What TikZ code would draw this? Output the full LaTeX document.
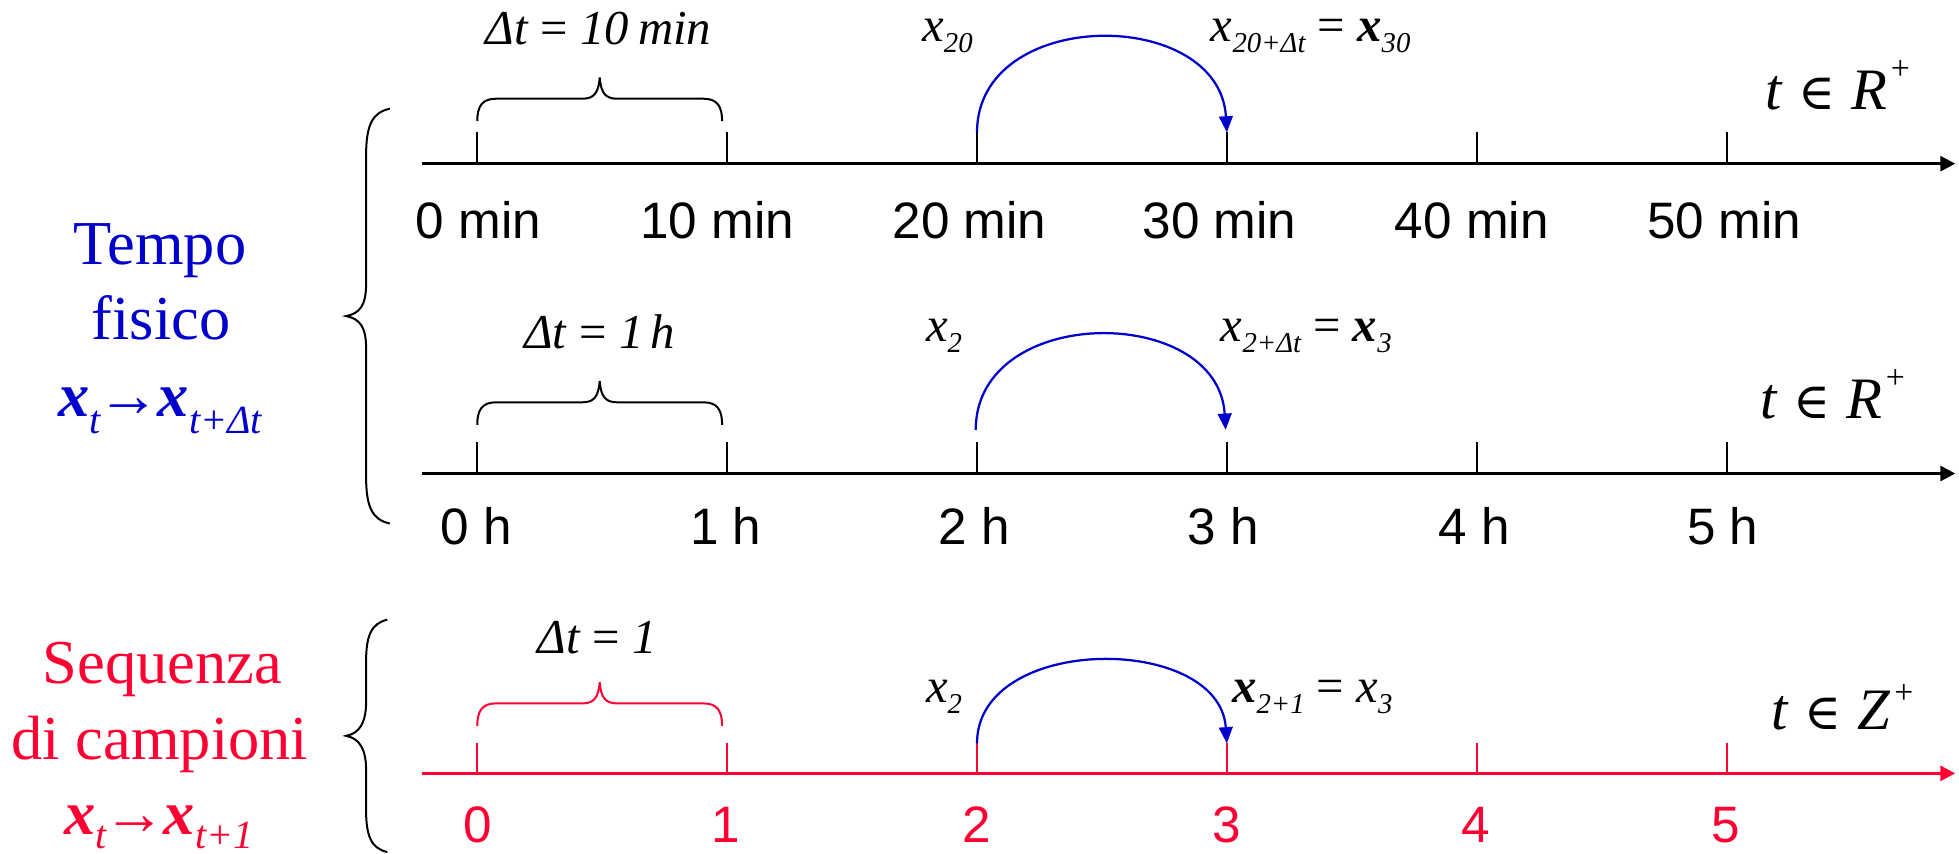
\documentclass[tikz,border=0pt]{standalone}
\usepackage{fontspec}
\setmainfont{Liberation Serif}
\newfontfamily\sansf{Liberation Sans}
\newfontfamily\symf{DejaVu Serif}
\usetikzlibrary{arrows.meta}
\definecolor{myblue}{RGB}{0,0,204}
\definecolor{myred}{RGB}{255,0,51}
\newcommand\lsub[1]{\raisebox{-9pt}{\fontsize{23}{23}\selectfont\itshape #1}}
\newcommand\bsub[2][14]{\raisebox{-#1pt}{\fontsize{32}{32}\selectfont\itshape #2}}
\newcommand\vx{\textit{x}}
\newcommand\bx{\textbf{\textit{x}}}
\newcommand\elt{{\symf\fontsize{40}{40}\selectfont ∈}}
\newcommand\setlab[2]{\textit{t}\hspace{12pt}\elt\hspace{13pt}\textit{#1}\hspace{3pt}\raisebox{#2}{\fontsize{27}{27}\selectfont +}}
\begin{document}
\begin{tikzpicture}[x=1pt,y=-1pt,
  axisline/.style={line width=2.4pt,-{Triangle[length=12pt,width=12pt]}},
  tickline/.style={line width=1.4pt},
  jump/.style={myblue,line width=1.8pt,-{Triangle[length=13pt,width=11pt]}},
  ticklab/.style={font=\sansf\fontsize{41}{41}\selectfont,anchor=base,inner sep=0pt},
  mlab/.style={font=\fontsize{39}{39}\selectfont,inner sep=0pt},
  setstyle/.style={font=\fontsize{47}{47}\selectfont,inner sep=0pt,anchor=base west},
  sidelab/.style={font=\fontsize{50}{50}\selectfont,anchor=base,inner sep=0pt},
  bracepath/.style={line width=1.6pt},
  sbrace/.pic={\draw[bracepath] (0,0) .. controls (0,-12) and (4,-18) .. (15,-18) -- (84,-18)
      .. controls (93,-18) and (97,-22) .. (98,-35)
      .. controls (99,-22) and (103,-18) .. (112,-18) -- (181,-18)
      .. controls (192,-18) and (196,-12) .. (196,0);}
]
\useasboundingbox (0,0) rectangle (1568,683);

% ---------------- left labels
\node[sidelab,myblue] (tempo) at (128,212) {Tempo};
\node[sidelab,myblue] (fisico) at (129,272) {fisico};
\node[sidelab,myblue] (trans1) at (128,333) {\bx\bsub{t}\hspace{-2pt}\textbf{→}\hspace{-2pt}\bx\bsub{t+Δt}};
\node[sidelab,myred] (seq) at (130,547) {Sequenza};
\node[sidelab,myred] (camp) at (128,608) {di campioni};
\node[sidelab,myred] (trans2) at (127,668) {\bx\bsub[11]{t}\hspace{-2pt}\textbf{→}\hspace{-2pt}\bx\bsub[11]{t+1}};

% ---------------- big braces
\draw[bracepath] (312,87) .. controls (298,90) and (293,100) .. (293,125) -- (293,228)
  .. controls (293,244) and (288,251) .. (277,253)
  .. controls (288,255) and (293,262) .. (293,278) -- (293,381)
  .. controls (293,406) and (298,416) .. (312,419);
\draw[bracepath] (310,496) .. controls (297,499) and (293,509) .. (293,530) -- (293,562)
  .. controls (293,578) and (288,587) .. (277,589)
  .. controls (288,591) and (293,600) .. (293,616) -- (293,648)
  .. controls (293,669) and (297,679) .. (310,682);

% ---------------- axis 1 (minutes)
\coordinate (A1s) at (338,131);
\coordinate (A1e) at (1565,131);
\draw[axisline] (A1s) -- (A1e);
\foreach \i in {0,...,5}{\draw[tickline] (382+200*\i,131) -- (382+200*\i,106) coordinate (A1t\i);}
\node[ticklab] (m0) at (383,191) {0 min};
\node[ticklab] (m1) at (574,191) {10 min};
\node[ticklab] (m2) at (776,191) {20 min};
\node[ticklab] (m3) at (976,191) {30 min};
\node[ticklab] (m4) at (1178,191) {40 min};
\node[ticklab] (m5) at (1380,191) {50 min};
\pic at (382,97) {sbrace};
\node[mlab,anchor=base] (d1) at (479,36) {\textit{Δt} = \textit{10\hspace{0.18em}min}};
\node[mlab,anchor=base west] (x20) at (738,33) {\vx\lsub{20}};
\node[mlab,anchor=base west] (x30) at (969,33) {\vx\lsub{20+Δt} = \bx\lsub{30}};
\node[setstyle] (R1) at (1413,88) {\setlab{R}{24pt}};
\draw[jump] (A1t2) .. controls +(0,-101) and +(-6,-101) .. (A1t3);

% ---------------- axis 2 (hours)
\coordinate (A2s) at (338,379);
\coordinate (A2e) at (1565,379);
\draw[axisline] (A2s) -- (A2e);
\foreach \i in {0,...,5}{\draw[tickline] (382+200*\i,379) -- (382+200*\i,354) coordinate (A2t\i);}
\node[ticklab] (h0) at (381,436) {0 h};
\node[ticklab] (h1) at (581,436) {1 h};
\node[ticklab] (h2) at (780,436) {2 h};
\node[ticklab] (h3) at (979,436) {3 h};
\node[ticklab] (h4) at (1180,436) {4 h};
\node[ticklab] (h5) at (1379,436) {5 h};
\pic at (382,340) {sbrace};
\node[mlab,anchor=base] (d2) at (480,279) {\textit{Δt} = \textit{1\hspace{0.15em}h}};
\node[mlab,anchor=base west] (x2a) at (741,273) {\vx\lsub{2}};
\node[mlab,anchor=base west] (x3a) at (977,273) {\vx\lsub{2+Δt} = \bx\lsub{3}};
\node[setstyle] (R2) at (1409,335) {\setlab{R}{24pt}};
\coordinate (B2a) at (781,344);
\coordinate (B2b) at (981,344);
\draw[jump] (B2a) .. controls +(0,-101) and +(-6,-101) .. (B2b);

% ---------------- axis 3 (samples)
\coordinate (A3s) at (338,619);
\coordinate (A3e) at (1565,619);
\draw[axisline,myred] (A3s) -- (A3e);
\foreach \i in {0,...,5}{\draw[tickline,myred] (382+200*\i,619) -- (382+200*\i,595) coordinate (A3t\i);}
\node[ticklab,myred] (n0) at (382,674) {0};
\node[ticklab,myred] (n1) at (581,674) {1};
\node[ticklab,myred] (n2) at (782,674) {2};
\node[ticklab,myred] (n3) at (982,674) {3};
\node[ticklab,myred] (n4) at (1181,674) {4};
\node[ticklab,myred] (n5) at (1381,674) {5};
\pic[myred] at (382,581) {sbrace};
\node[mlab,anchor=base] (d3) at (478,523) {\textit{Δt} = \textit{1}};
\node[mlab,anchor=base west] (x2b) at (741,562) {\vx\lsub{2}};
\node[mlab,anchor=base west] (x3b) at (986,562) {\bx\lsub{2+1} = \vx\lsub{3}};
\node[setstyle] (Z1) at (1418,584) {\setlab{Z}{21pt}};
\draw[jump] (A3t2) .. controls +(0,-88) and +(-6,-88) .. (A3t3);
\end{tikzpicture}
\end{document}
